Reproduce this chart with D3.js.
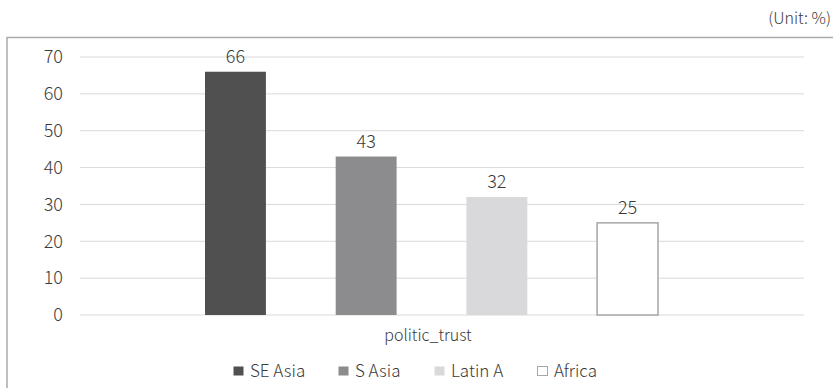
<!DOCTYPE html>
<html>
<head>
<meta charset="utf-8">
<script src="https://cdn.jsdelivr.net/npm/d3@7"></script>
<style>
  body { margin: 0; background: #fff; }
  text { font-family: "Noto Sans CJK KR", "Noto Sans", sans-serif; font-weight: 300; fill: #3a3a3a; }
</style>
</head>
<body>
<svg width="833" height="388"></svg>
<script>
var svg = d3.select("svg");

var categories = ["politic_trust"];
var series = ["SE Asia", "S Asia", "Latin A", "Africa"];
var values = [66, 43, 32, 25];
var yTicks = [0, 10, 20, 30, 40, 50, 60, 70];
var fills = ["#505050", "#8c8c8e", "#d9d9db", "#ffffff"];
var strokes = ["none", "none", "none", "#a6a6a6"];

// frame (cut off at right and bottom, like the original)
svg.append("path")
  .attr("d", "M7,388 V37.5 H833")
  .attr("fill", "none")
  .attr("stroke", "#aaa")
  .attr("stroke-width", 1.5);

svg.append("text")
  .attr("x", 831).attr("y", 24)
  .attr("text-anchor", "end")
  .style("font-size", "16px")
  .text("(Unit: %)");

var y = d3.scaleLinear().domain([0, 70]).range([315, 57]);
var x0 = d3.scaleBand().domain(categories).range([80, 804]);
var x1 = d3.scaleBand().domain(series).range([125, 578]).paddingInner(0.534).paddingOuter(0);

// gridlines
svg.append("g")
  .selectAll("line")
  .data(yTicks)
  .enter()
  .append("line")
  .attr("x1", 80).attr("x2", 804)
  .attr("y1", function(d) { return y(d); })
  .attr("y2", function(d) { return y(d); })
  .attr("stroke", "#d9d9d9")
  .attr("stroke-width", 1);

// y axis labels
var yAxis = d3.axisLeft(y).tickValues(yTicks).tickSize(0).tickPadding(0);
var gy = svg.append("g").attr("transform", "translate(63,0)").call(yAxis);
gy.select(".domain").remove();
gy.selectAll("text")
  .style("font-size", "18px")
  .style("font-family", "'Noto Sans CJK KR', sans-serif")
  .style("font-weight", 300)
  .attr("fill", "#333");

// bars
var gBars = svg.append("g");
categories.forEach(function(c) {
  var bx = x0(c);
  gBars.selectAll("rect")
    .data(values)
    .enter()
    .append("rect")
    .attr("x", function(d, i) { return bx + x1(series[i]); })
    .attr("y", function(d) { return y(d); })
    .attr("width", x1.bandwidth())
    .attr("height", function(d) { return y(0) - y(d); })
    .attr("fill", function(d, i) { return fills[i]; })
    .attr("stroke", function(d, i) { return strokes[i]; })
    .attr("stroke-width", 1.5);

  gBars.selectAll("text.lbl")
    .data(values)
    .enter()
    .append("text")
    .attr("class", "lbl")
    .attr("x", function(d, i) { return bx + x1(series[i]) + x1.bandwidth() / 2; })
    .attr("y", function(d) { return y(d) - 9; })
    .attr("text-anchor", "middle")
    .style("font-size", "18px")
    .attr("fill", "#505050")
    .text(function(d) { return d; });

  svg.append("text")
    .attr("x", 428)
    .attr("y", 341)
    .attr("text-anchor", "middle")
    .style("font-size", "16px")
    .text(c);
});

// legend
var legendX = [233, 338, 434, 537];
var leg = svg.append("g").selectAll("g")
  .data(series)
  .enter()
  .append("g")
  .attr("transform", function(d, i) { return "translate(" + legendX[i] + ",366)"; });
leg.append("rect")
  .attr("x", 0.5).attr("y", 0.5)
  .attr("width", 10).attr("height", 9)
  .attr("fill", function(d, i) { return fills[i]; })
  .attr("stroke", function(d, i) { return strokes[i]; });
leg.append("text")
  .attr("x", 17).attr("y", 11)
  .style("font-size", "17px")
  .text(function(d) { return d; });
</script>
</body>
</html>
